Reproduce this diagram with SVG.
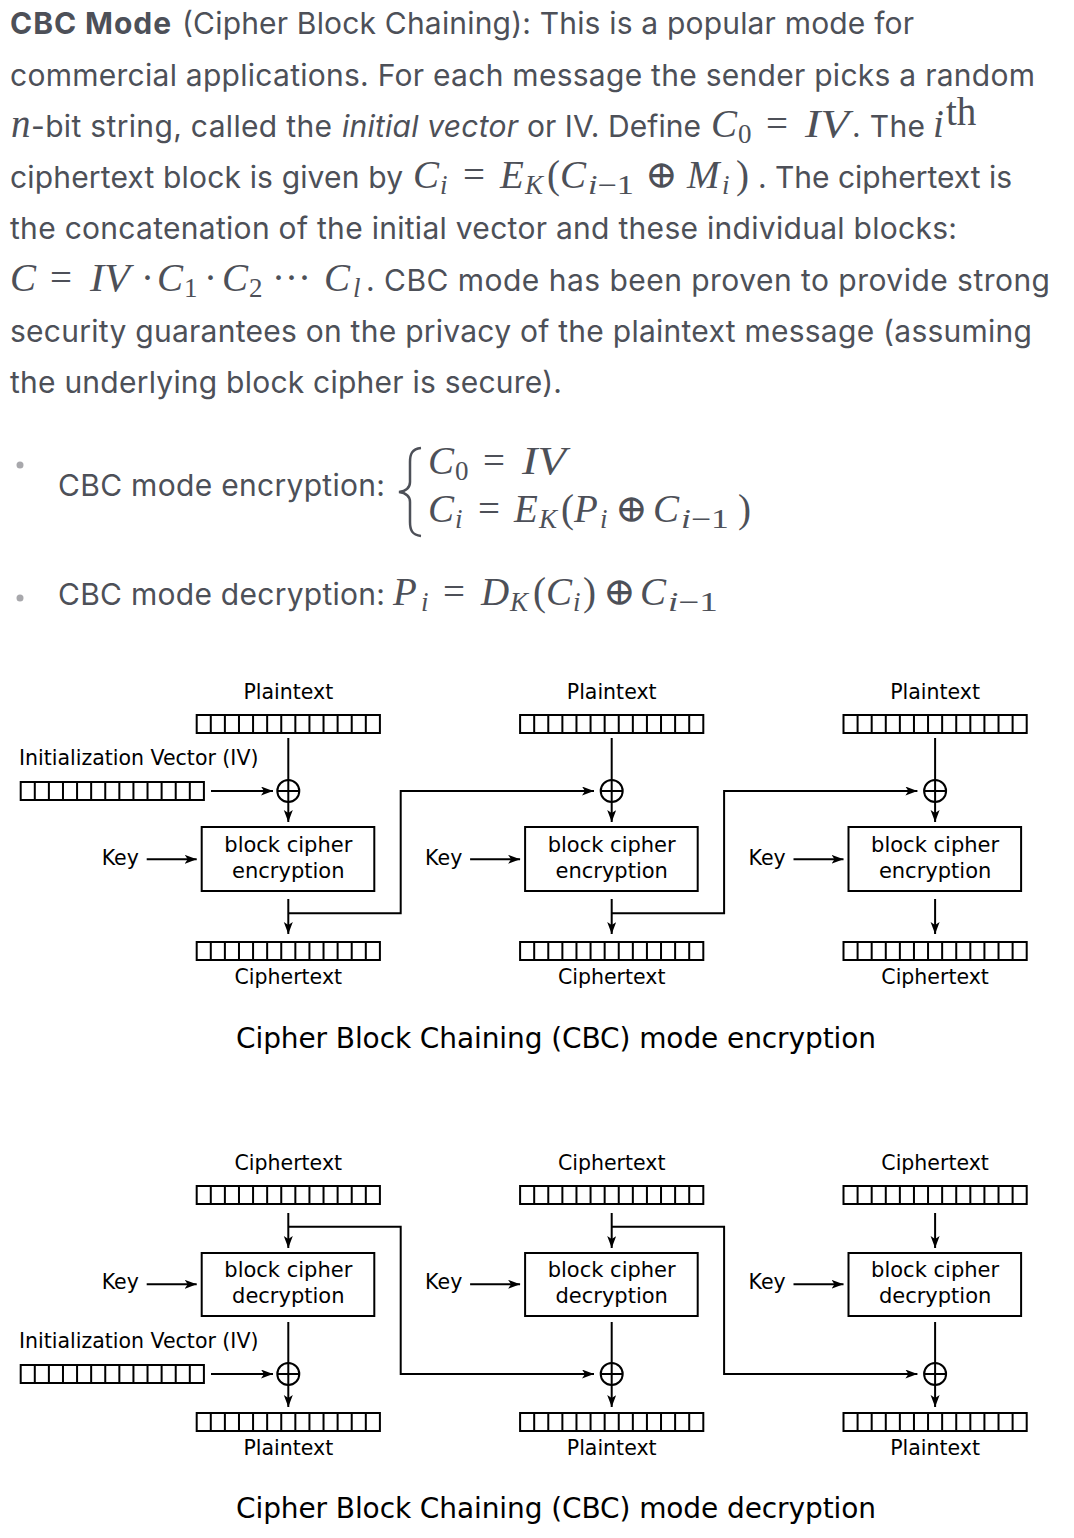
<svg xmlns="http://www.w3.org/2000/svg" width="1074" height="1538" viewBox="0 0 1074 1538">
<style>
.t{font-family:Inter,"Liberation Sans",sans-serif;font-size:30px;fill:#4d5058}
.b{font-weight:700}
.it{font-style:italic}
.m{font-family:"Liberation Serif","DejaVu Serif",serif;font-size:39px;fill:#4d5058;font-style:italic}
.mr{font-style:normal}
.s{font-size:27px}
.d{font-family:"DejaVu Sans",sans-serif;font-size:20.5px;fill:#000}
.bk{font-size:21px}
.cap{font-size:28px}
.ln{stroke:#000;stroke-width:2;fill:none}
.arr{marker-end:url(#ah)}
</style>
<defs>
<marker id="ah" markerUnits="userSpaceOnUse" markerWidth="13" markerHeight="10" refX="12" refY="4.5" orient="auto">
<path d="M0,0 L12,4.5 L0,9 L3,4.5 z" fill="#000"/>
</marker>
<g id="bits">
<rect x="0" y="0" width="183.2" height="18" fill="#fff" stroke="#000" stroke-width="2"/>
<path d="M14.09,0V18M28.18,0V18M42.28,0V18M56.37,0V18M70.46,0V18M84.55,0V18M98.65,0V18M112.74,0V18M126.83,0V18M140.92,0V18M155.02,0V18M169.11,0V18" stroke="#000" stroke-width="2"/>
</g>
<g id="xor">
<circle cx="0" cy="0" r="11" fill="none" stroke="#000" stroke-width="2"/>
<path d="M-11,0H11M0,-11V11" stroke="#000" stroke-width="2"/>
</g>
</defs>
<rect width="1074" height="1538" fill="#fff"/>

<g id="paragraph">
<text class="t b" x="10" y="34" textLength="161">CBC Mode</text>
<text class="t" x="182" y="34" textLength="732">(Cipher Block Chaining): This is a popular mode for</text>
<text class="t" x="10" y="85.5" textLength="1025">commercial applications. For each message the sender picks a random</text>
<text class="m" x="11" y="137">n</text>
<text class="t" x="31" y="137" textLength="301">-bit string, called the</text>
<text class="t it" x="342" y="137" textLength="176">initial vector</text>
<text class="t" x="527" y="137" textLength="174">or IV. Define</text>
<text class="m" x="711" y="137">C</text>
<text class="m mr s" x="738" y="143">0</text>
<text class="m mr" x="766" y="137">=</text>
<text class="m" x="805" y="137" textLength="44" lengthAdjust="spacingAndGlyphs">IV</text>
<text class="t" x="852" y="137" textLength="73">. The</text>
<text class="m" x="933" y="137">i</text>
<text class="m mr" x="946" y="125" font-size="22">th</text>
<text class="t" x="10" y="188" textLength="393">ciphertext block is given by</text>
<text class="m" x="413" y="188">C</text>
<text class="m s" x="440" y="194">i</text>
<text class="m mr" x="463" y="188">=</text>
<text class="m" x="500" y="188">E</text>
<text class="m s" x="525" y="194">K</text>
<text class="m mr" x="547" y="188">(</text>
<text class="m" x="560" y="188">C</text>
<text class="m s" x="588" y="194" textLength="46" lengthAdjust="spacingAndGlyphs">i<tspan class="mr">−1</tspan></text>
<text class="m mr" x="645" y="188">⊕</text>
<text class="m" x="687" y="188">M</text>
<text class="m s" x="722" y="194">i</text>
<text class="m mr" x="736" y="188">)</text>
<text class="t" x="758" y="188" textLength="254">. The ciphertext is</text>
<text class="t" x="10" y="239" textLength="947">the concatenation of the initial vector and these individual blocks:</text>
<text class="m" x="10" y="290.5">C</text>
<text class="m mr" x="50" y="290.5">=</text>
<text class="m" x="90" y="290.5" textLength="40" lengthAdjust="spacingAndGlyphs">IV</text>
<text class="m mr" x="141" y="290.5">·</text>
<text class="m" x="157" y="290.5">C</text>
<text class="m mr s" x="184" y="296.5">1</text>
<text class="m mr" x="204" y="290.5">·</text>
<text class="m" x="222" y="290.5">C</text>
<text class="m mr s" x="249" y="296.5">2</text>
<text class="m mr" x="272" y="290.5">···</text>
<text class="m" x="324" y="290.5">C</text>
<text class="m s" x="353" y="296.5">l</text>
<text class="t" x="366" y="290.5" textLength="684">. CBC mode has been proven to provide strong</text>
<text class="t" x="10" y="342" textLength="1022">security guarantees on the privacy of the plaintext message (assuming</text>
<text class="t" x="10" y="393" textLength="552">the underlying block cipher is secure).</text>
</g>

<g id="bullet-encryption">
<circle cx="20" cy="465" r="3.5" fill="#a8a8ac"/>
<text class="t" x="58" y="496" textLength="327">CBC mode encryption:</text>
<path d="M421,448 C412,449 410,454 410,462 V482 C410,488 406,491 399,492 C406,493 410,496 410,502 V522 C410,530 412,535 421,536" fill="none" stroke="#4d5058" stroke-width="2.5"/>
<text class="m" x="428" y="474">C</text>
<text class="m mr s" x="455" y="480">0</text>
<text class="m mr" x="483" y="474">=</text>
<text class="m" x="522" y="474" textLength="44" lengthAdjust="spacingAndGlyphs">IV</text>
<text class="m" x="428" y="522">C</text>
<text class="m s" x="455" y="528">i</text>
<text class="m mr" x="478" y="522">=</text>
<text class="m" x="514" y="522">E</text>
<text class="m s" x="539" y="528">K</text>
<text class="m mr" x="561" y="522">(</text>
<text class="m" x="574" y="522">P</text>
<text class="m s" x="600" y="528">i</text>
<text class="m mr" x="615" y="522">⊕</text>
<text class="m" x="653" y="522">C</text>
<text class="m s" x="681" y="528" textLength="48" lengthAdjust="spacingAndGlyphs">i<tspan class="mr">−1</tspan></text>
<text class="m mr" x="738" y="522">)</text>
</g>

<g id="bullet-decryption">
<circle cx="20" cy="598" r="3.5" fill="#a8a8ac"/>
<text class="t" x="58" y="605" textLength="327">CBC mode decryption:</text>
<text class="m" x="393" y="605">P</text>
<text class="m s" x="421" y="611">i</text>
<text class="m mr" x="443" y="605">=</text>
<text class="m" x="481" y="605">D</text>
<text class="m s" x="510" y="611">K</text>
<text class="m mr" x="533" y="605">(</text>
<text class="m" x="546" y="605">C</text>
<text class="m s" x="573" y="611">i</text>
<text class="m mr" x="583" y="605">)</text>
<text class="m mr" x="603" y="605">⊕</text>
<text class="m" x="640" y="605">C</text>
<text class="m s" x="668" y="611" textLength="50" lengthAdjust="spacingAndGlyphs">i<tspan class="mr">−1</tspan></text>
</g>

<!-- Encryption diagram -->
<g id="enc-iv">
<text class="d" x="19" y="765">Initialization Vector (IV)</text>
<use href="#bits" x="20.7" y="782"/>
</g>
<g id="enc-block1">
<text class="d" x="288.3" y="699" text-anchor="middle">Plaintext</text>
<use href="#bits" x="196.7" y="715"/>
<use href="#xor" x="288.3" y="791"/>
<rect x="201.7" y="827" width="172.6" height="64" fill="#fff" stroke="#000" stroke-width="2"/>
<text class="d bk" x="288.3" y="852" text-anchor="middle">block cipher</text>
<text class="d bk" x="288.3" y="878" text-anchor="middle">encryption</text>
<text class="d" x="101.7" y="865">Key</text>
<use href="#bits" x="196.7" y="942"/>
<text class="d" x="288.3" y="984" text-anchor="middle">Ciphertext</text>
</g>
<g id="enc-block2">
<text class="d" x="611.7" y="699" text-anchor="middle">Plaintext</text>
<use href="#bits" x="520.1" y="715"/>
<use href="#xor" x="611.7" y="791"/>
<rect x="525.1" y="827" width="172.6" height="64" fill="#fff" stroke="#000" stroke-width="2"/>
<text class="d bk" x="611.7" y="852" text-anchor="middle">block cipher</text>
<text class="d bk" x="611.7" y="878" text-anchor="middle">encryption</text>
<text class="d" x="425.1" y="865">Key</text>
<use href="#bits" x="520.1" y="942"/>
<text class="d" x="611.7" y="984" text-anchor="middle">Ciphertext</text>
</g>
<g id="enc-block3">
<text class="d" x="935.1" y="699" text-anchor="middle">Plaintext</text>
<use href="#bits" x="843.5" y="715"/>
<use href="#xor" x="935.1" y="791"/>
<rect x="848.5" y="827" width="172.6" height="64" fill="#fff" stroke="#000" stroke-width="2"/>
<text class="d bk" x="935.1" y="852" text-anchor="middle">block cipher</text>
<text class="d bk" x="935.1" y="878" text-anchor="middle">encryption</text>
<text class="d" x="748.5" y="865">Key</text>
<use href="#bits" x="843.5" y="942"/>
<text class="d" x="935.1" y="984" text-anchor="middle">Ciphertext</text>
</g>
<text id="enc-caption" class="d cap" x="556" y="1048" text-anchor="middle" textLength="640">Cipher Block Chaining (CBC) mode encryption</text>

<!-- Decryption diagram -->
<g id="dec-block1">
<text class="d" x="288.3" y="1170" text-anchor="middle">Ciphertext</text>
<use href="#bits" x="196.7" y="1186"/>
<rect x="201.7" y="1253" width="172.6" height="63" fill="#fff" stroke="#000" stroke-width="2"/>
<text class="d bk" x="288.3" y="1277" text-anchor="middle">block cipher</text>
<text class="d bk" x="288.3" y="1303" text-anchor="middle">decryption</text>
<text class="d" x="101.7" y="1289">Key</text>
<use href="#xor" x="288.3" y="1374"/>
<use href="#bits" x="196.7" y="1413"/>
<text class="d" x="288.3" y="1455" text-anchor="middle">Plaintext</text>
</g>
<g id="dec-iv">
<text class="d" x="19" y="1348">Initialization Vector (IV)</text>
<use href="#bits" x="20.7" y="1365"/>
</g>
<g id="dec-block2">
<text class="d" x="611.7" y="1170" text-anchor="middle">Ciphertext</text>
<use href="#bits" x="520.1" y="1186"/>
<rect x="525.1" y="1253" width="172.6" height="63" fill="#fff" stroke="#000" stroke-width="2"/>
<text class="d bk" x="611.7" y="1277" text-anchor="middle">block cipher</text>
<text class="d bk" x="611.7" y="1303" text-anchor="middle">decryption</text>
<text class="d" x="425.1" y="1289">Key</text>
<use href="#xor" x="611.7" y="1374"/>
<use href="#bits" x="520.1" y="1413"/>
<text class="d" x="611.7" y="1455" text-anchor="middle">Plaintext</text>
</g>
<g id="dec-block3">
<text class="d" x="935.1" y="1170" text-anchor="middle">Ciphertext</text>
<use href="#bits" x="843.5" y="1186"/>
<rect x="848.5" y="1253" width="172.6" height="63" fill="#fff" stroke="#000" stroke-width="2"/>
<text class="d bk" x="935.1" y="1277" text-anchor="middle">block cipher</text>
<text class="d bk" x="935.1" y="1303" text-anchor="middle">decryption</text>
<text class="d" x="748.5" y="1289">Key</text>
<use href="#xor" x="935.1" y="1374"/>
<use href="#bits" x="843.5" y="1413"/>
<text class="d" x="935.1" y="1455" text-anchor="middle">Plaintext</text>
</g>
<text id="dec-caption" class="d cap" x="556" y="1518" text-anchor="middle" textLength="640">Cipher Block Chaining (CBC) mode decryption</text>

<g id="connectors">
<path class="ln arr" d="M211,791H273"/>
<path class="ln" d="M288.3,738V780"/>
<path class="ln arr" d="M288.3,802V822"/>
<path class="ln arr" d="M146.7,859.3H196.7"/>
<path class="ln arr" d="M288.3,899V934"/>
<path class="ln arr" d="M288.3,913.3H400.7V791H594"/>
<path class="ln" d="M611.7,738V780"/>
<path class="ln arr" d="M611.7,802V822"/>
<path class="ln arr" d="M470.1,859.3H520.1"/>
<path class="ln arr" d="M611.7,899V934"/>
<path class="ln arr" d="M611.7,913.3H724.1V791H917.4"/>
<path class="ln" d="M935.1,738V780"/>
<path class="ln arr" d="M935.1,802V822"/>
<path class="ln arr" d="M793.5,859.3H843.5"/>
<path class="ln arr" d="M935.1,899V934"/>
<path class="ln arr" d="M288.3,1213V1248"/>
<path class="ln arr" d="M288.3,1226.7H400.7V1374H594"/>
<path class="ln arr" d="M146.7,1284.3H196.7"/>
<path class="ln" d="M288.3,1322V1363"/>
<path class="ln arr" d="M288.3,1385V1407"/>
<path class="ln arr" d="M211,1374H273"/>
<path class="ln arr" d="M611.7,1213V1248"/>
<path class="ln arr" d="M611.7,1226.7H724.1V1374H917.4"/>
<path class="ln arr" d="M470.1,1284.3H520.1"/>
<path class="ln" d="M611.7,1322V1363"/>
<path class="ln arr" d="M611.7,1385V1407"/>
<path class="ln arr" d="M935.1,1213V1248"/>
<path class="ln arr" d="M793.5,1284.3H843.5"/>
<path class="ln" d="M935.1,1322V1363"/>
<path class="ln arr" d="M935.1,1385V1407"/>
</g>
</svg>
